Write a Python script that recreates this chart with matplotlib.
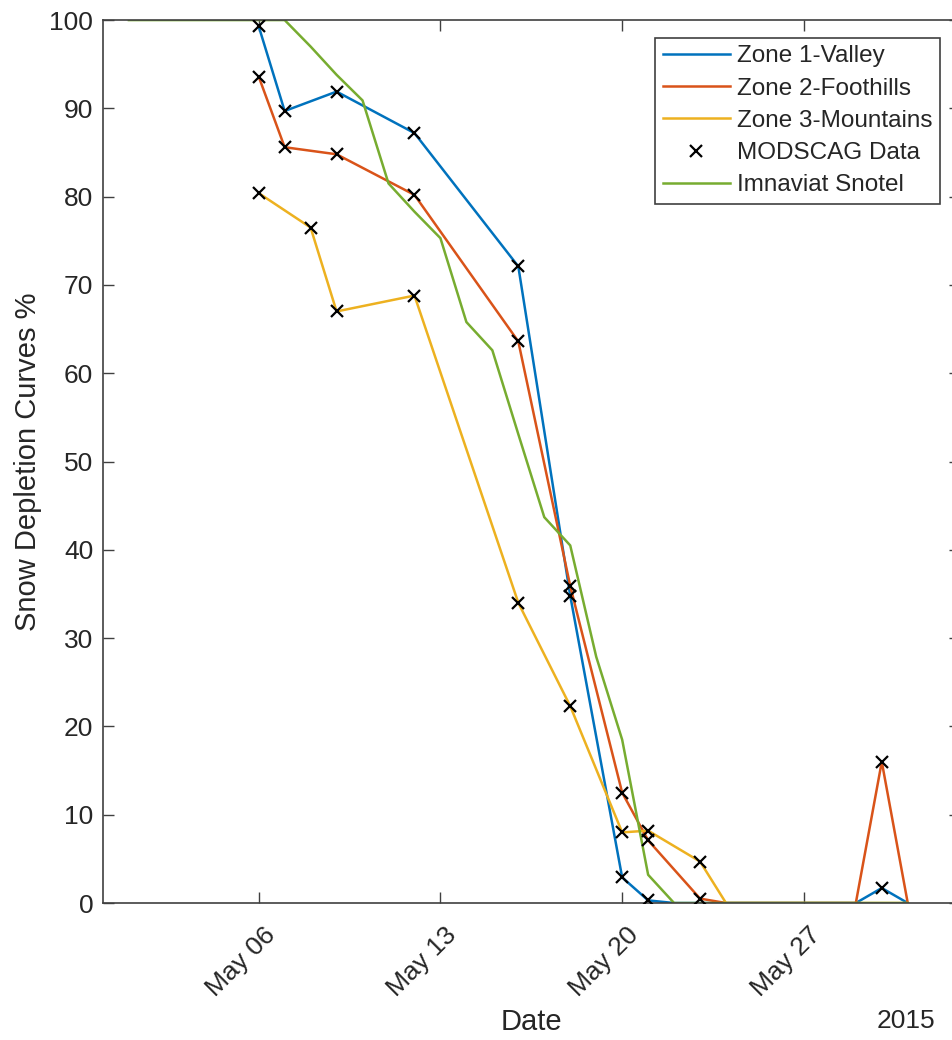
import numpy as np
import pandas as pd
import matplotlib
matplotlib.use('Agg')
import matplotlib.pyplot as plt
from matplotlib.transforms import ScaledTranslation

plt.rcParams.update({
    'font.family': ['Liberation Sans', 'DejaVu Sans'],
    'font.size': 19,
    'axes.edgecolor': '#404040', 'xtick.color': '#404040', 'ytick.color': '#404040',
    'text.color': '#262626', 'axes.labelcolor': '#262626',
    'xtick.labelcolor': '#262626', 'ytick.labelcolor': '#262626',
})

BLUE, ORANGE, YELLOW, GREEN = '#0072BD', '#D95319', '#EDB120', '#77AC30'

# Zone curves (May days -> %)
z1_day = [6, 7, 9, 12, 16, 18, 20, 21, 22, 29, 30, 31]
z1_val = [99.3, 89.7, 91.9, 87.2, 72.1, 34.8, 2.9, 0.3, 0, 0, 1.7, 0]
z2_day = [6, 7, 9, 12, 16, 18, 20, 21, 23, 24, 29, 30, 31]
z2_val = [93.6, 85.6, 84.8, 80.2, 63.6, 35.9, 12.5, 7.1, 0.5, 0, 0, 16.0, 0]
z3_day = [6, 8, 9, 12, 16, 18, 20, 21, 23, 24, 31]
z3_val = [80.4, 76.5, 67.0, 68.8, 34.0, 22.3, 8.0, 8.2, 4.7, 0, 0]

# MODSCAG observations
mod_day = [6, 7, 9, 12, 16, 18, 20, 21, 30,
           6, 7, 9, 12, 16, 18, 20, 21, 23, 30,
           6, 8, 9, 12, 16, 18, 20, 21, 23]
mod_val = [99.3, 89.7, 91.9, 87.2, 72.1, 34.8, 2.9, 0.3, 1.7,
           93.6, 85.6, 84.8, 80.2, 63.6, 35.9, 12.5, 7.1, 0.5, 16.0,
           80.4, 76.5, 67.0, 68.8, 34.0, 22.3, 8.0, 8.2, 4.7]

# Imnaviat Snotel daily
sn_day = list(range(1, 32))
sn_val = [100, 100, 100, 100, 100, 100, 100, 97.0, 93.8, 90.9, 81.5, 78.3, 75.3,
          65.8, 62.6, 53.1, 43.7, 40.5, 27.9, 18.5, 3.2, 0, 0, 0, 0, 0, 0, 0, 0, 0, 0]


def to_dates(days):
    return pd.Timestamp('2015-05-01') + pd.to_timedelta(np.array(days) - 1, unit='D')


fig = plt.figure(figsize=(9.53, 10.4), dpi=100)
ax = fig.add_axes([0.108, 0.1317, 0.899, 0.849])

h1, = ax.plot(to_dates(z1_day), z1_val, color=BLUE, lw=1.8, label='Zone 1-Valley', zorder=2)
h2, = ax.plot(to_dates(z2_day), z2_val, color=ORANGE, lw=1.8, label='Zone 2-Foothills', zorder=2)
h3, = ax.plot(to_dates(z3_day), z3_val, color=YELLOW, lw=1.8, label='Zone 3-Mountains', zorder=2)
h5, = ax.plot(to_dates(sn_day), sn_val, color=GREEN, lw=1.8, label='Imnaviat Snotel', zorder=2.5)
h4, = ax.plot(to_dates(mod_day), mod_val, ls='none', marker='x', color='black',
              ms=8, mew=1.6, label='MODSCAG Data', zorder=3)

ax.set_xlim(pd.Timestamp('2015-04-30'), pd.Timestamp('2015-06-02'))
ax.set_ylim(0, 100)
ax.set_yticks(np.arange(0, 101, 10))
ticks = pd.to_datetime(['2015-05-06', '2015-05-13', '2015-05-20', '2015-05-27'])
ax.set_xticks(ticks)
ax.set_xticklabels([t.strftime('%b %d') for t in ticks], rotation=45,
                   ha='right', va='top', rotation_mode='anchor')
ax.tick_params(direction='in', length=8, width=1, top=True, right=True, labelsize=19)
ax.tick_params(axis='y', pad=7)
ax.tick_params(axis='x', pad=14)
off = ScaledTranslation(0.04, 0, fig.dpi_scale_trans)
for lab in ax.get_xticklabels():
    lab.set_transform(lab.get_transform() + off)
for s in ax.spines.values():
    s.set_linewidth(1.2)

ax.set_ylabel('Snow Depletion Curves %', fontsize=21, labelpad=5)
fig.text(0.558, 0.004, 'Date', ha='center', va='bottom', fontsize=21)
fig.text(0.981, 0.007, '2015', ha='right', va='bottom', fontsize=19)

leg = ax.legend(handles=[h1, h2, h3, h4, h5], loc='upper right',
                bbox_to_anchor=(0.9767, 0.9796), borderaxespad=0, fontsize=17.5,
                numpoints=1, handlelength=2.75, handletextpad=0.3, borderpad=0.3,
                labelspacing=0.42, fancybox=False, framealpha=1)
leg.get_frame().set_edgecolor('#404040')
leg.get_frame().set_linewidth(1.2)

fig.savefig('out.png', dpi=100)
